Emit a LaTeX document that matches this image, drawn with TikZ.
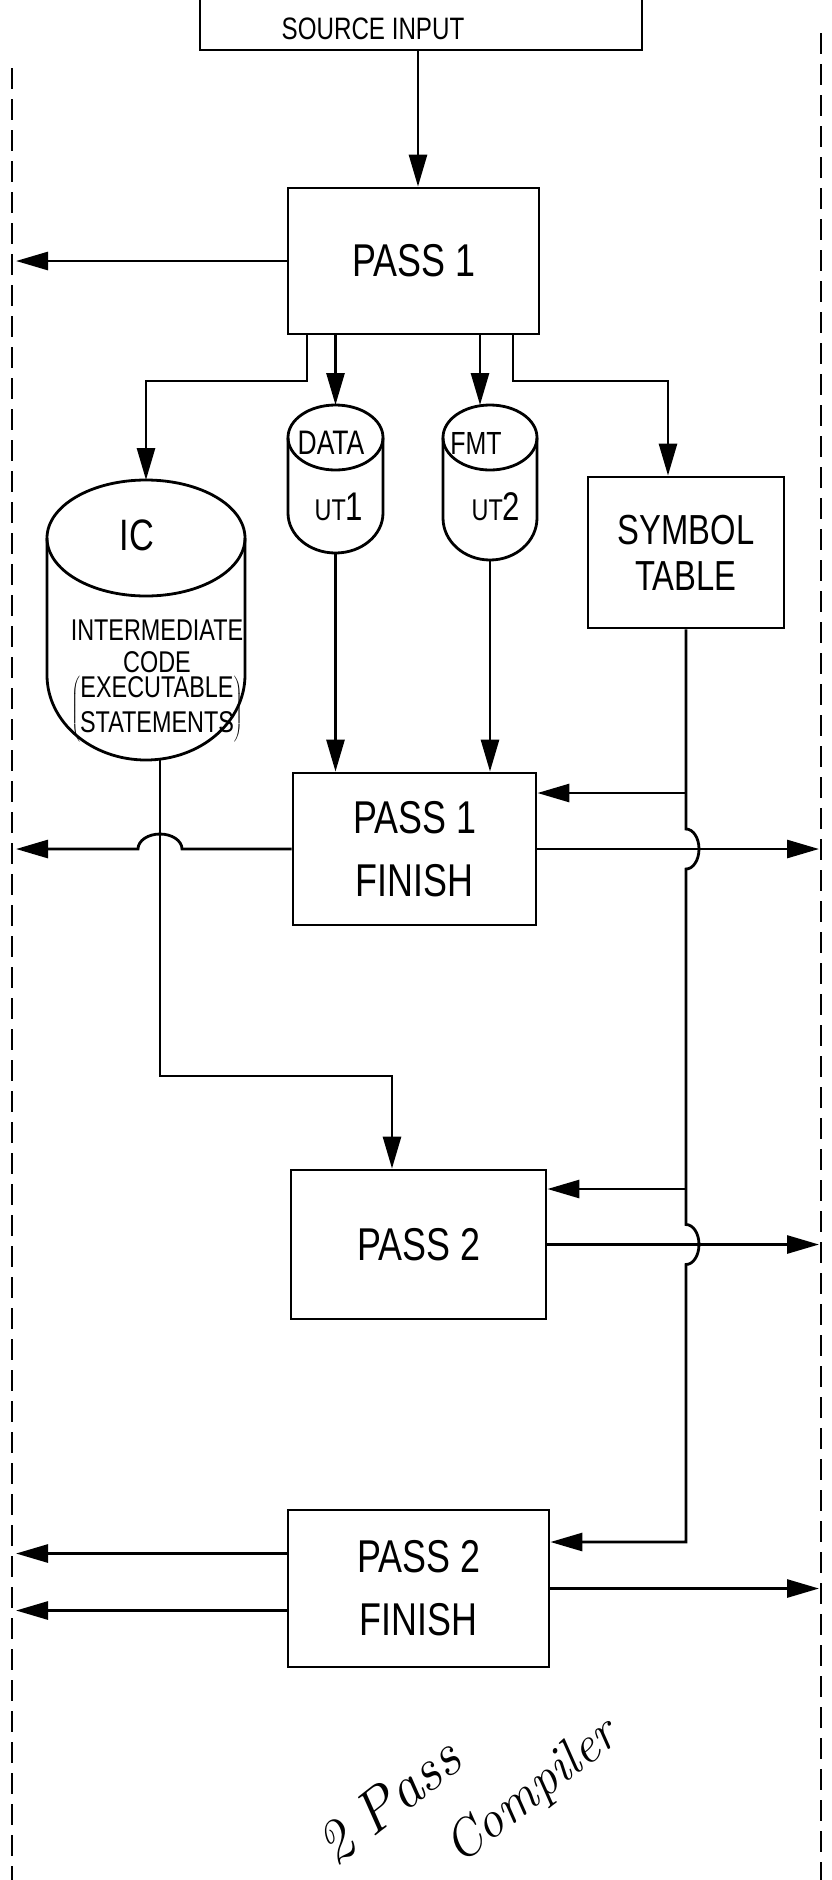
\documentclass[tikz,border=0pt]{standalone}
\usepackage{fontspec}
\newfontfamily\plotfont{Liberation Sans}[FakeStretch=0.78]
\usetikzlibrary{arrows.meta, calc}

\begin{document}
\begin{tikzpicture}[x=1pt, y=-1pt,
      >={Triangle[length=32pt, width=18pt]},
      box/.style={draw, line width=2.8pt, inner sep=0pt, align=center, font=\plotfont\fontsize{46}{63}\selectfont},
      drum/.style={inner sep=0pt, outer sep=0pt},
      ln/.style={line width=2.8pt},
      arr/.style={->, line width=2.8pt},
      rim/.style={line width=2.8pt, dash pattern=on 21pt off 10pt},
      lbl/.style={inner sep=0pt, align=center}]
    \useasboundingbox (0,0) rectangle (831,1880);
    % page edges
    \draw[rim] (12,68) -- (12,1880);
    \draw[rim] (821,33) -- (821,1880);
    \coordinate (lb) at (16,0);
    \coordinate (rb) at (819,0);
    % source input
    \draw[ln] (200,0) |- (642,50) -- (642,0);
    \node[lbl, font=\plotfont\fontsize{31}{31}\selectfont] (src) at (373,29) {SOURCE INPUT};
    \coordinate (srcout) at (418,50);
    % passes
    \node[box, minimum width=251pt, minimum height=146pt] (p1) at (413.5,261) {PASS 1};
    \node[box, minimum width=243pt, minimum height=152pt] (p1f) at (414.5,849) {PASS 1\\FINISH};
    \node[box, minimum width=255pt, minimum height=149pt] (p2) at (418.5,1244.5) {PASS 2};
    \node[box, minimum width=261pt, minimum height=157pt] (p2f) at (418.5,1588.5) {PASS 2\\FINISH};
    \node[box, minimum width=196pt, minimum height=151pt, font=\plotfont\fontsize{42}{46}\selectfont] (st) at (686,552.5) {SYMBOL\\TABLE};
    % tape drums
    \foreach \n/\cx/\dw/\ytop/\ylens/\hlens/\ybot/\rbot in {ic/146/198/480/538/58/760/85, ut1/335.5/95/405/437.5/32.5/553/40, ut2/490/94/405/437.5/32.5/560/42} {
      \node[drum, minimum width=\dw pt, minimum height={(\ybot-\ytop)*1pt}] (\n) at (\cx,{(\ytop+\ybot)/2}) {};
      \draw[ln] (\cx,\ylens) ellipse[x radius=\dw/2, y radius=\hlens];
      \draw[ln] ({\cx-\dw/2},\ylens) -- ({\cx-\dw/2},{\ybot-\rbot}) arc[start angle=180, end angle=0, x radius=\dw/2, y radius=\rbot] -- ({\cx+\dw/2},\ylens);
    }
    \node[lbl, font=\plotfont\fontsize{44}{44}\selectfont] (ictag) at (137,535) {IC};
    \node[lbl, font=\plotfont\fontsize{30}{32}\selectfont] (icdesc) at (157,681) {INTERMEDIATE\\CODE\\[2pt]$\left(\begin{tabular}{@{}c@{}}EXECUTABLE\\[3pt]STATEMENTS\end{tabular}\right)$};
    \node[lbl, font=\plotfont\fontsize{34}{34}\selectfont] (ut1tag) at (331,443) {DATA};
    \node[lbl, font=\plotfont\fontsize{32}{32}\selectfont] (ut2tag) at (476,443) {FMT};
    \node[lbl, font=\plotfont\fontsize{40}{40}\selectfont] (ut1name) at (339,507) {{\fontsize{30}{30}\selectfont UT}1};
    \node[lbl, font=\plotfont\fontsize{40}{40}\selectfont] (ut2name) at (496,507) {{\fontsize{30}{30}\selectfont UT}2};
    % pass 1 outputs
    \draw[arr] (srcout) -- (srcout |- p1.north);
    \draw[arr] (p1.west) -- (p1.west -| lb);
    \coordinate (icj) at (307,381);
    \coordinate (stj) at (513,381);
    \draw[arr] (p1.south -| icj) -- (icj) -| (ic.north);
    \draw[arr] (p1.south -| ut1.north) -- (ut1.north);
    \draw[arr] (p1.south -| 480,0) -- (480,0 |- ut2.north);
    \draw[arr] (p1.south -| stj) -- (stj) -| ([xshift=-18pt]st.north);
    \draw[arr] (ut1.south) -- (ut1.south |- p1f.north);
    \draw[arr] (ut2.south) -- (ut2.south |- p1f.north);
    % symbol table feed
    \coordinate (tap1) at (686,793);
    \coordinate (tap2) at (686,1189);
    \coordinate (tap3) at (686,1542);
    \draw[arr] (st.south) -- ($(st.south |- p1f.east)+(0,-20)$) arc[start angle=-90, end angle=90, x radius=13, y radius=20]
      -- ($(st.south |- p2.east)+(0,-20)$) arc[start angle=-90, end angle=90, x radius=13, y radius=20]
      -- (tap3) -- (tap3 -| p2f.east);
    \draw[arr] (tap1) -- (tap1 -| p1f.east);
    \draw[arr] (tap2) -- (tap2 -| p2.east);
    % outputs to the edges
    \draw[arr] (p1f.east) -- (p1f.east -| rb);
    \draw[arr] (p2.east) -- (p2.east -| rb);
    \draw[arr] (p2f.east) -- (p2f.east -| rb);
    \draw[arr] (p1f.west) -- (p1f.west -| 182,0) arc[start angle=0, end angle=-180, x radius=22, y radius=15] -- (p1f.west -| lb);
    \coordinate (o1) at ([yshift=35pt]p2f.west);
    \coordinate (o2) at ([yshift=-22pt]p2f.west);
    \draw[arr] (o1) -- (o1 -| lb);
    \draw[arr] (o2) -- (o2 -| lb);
    % intermediate code into pass 2
    \coordinate (icturn) at (160,1076);
    \draw[arr] ([xshift=14pt]ic.south) -- (icturn) -| ([xshift=-26.5pt]p2.north);
    % handwritten note
    \node[lbl, rotate=38, anchor=base west, font=\itshape\fontsize{60}{60}\selectfont] (hand1) at (335,1868) {2\hspace{0.3em}Pass};
    \node[lbl, rotate=38, anchor=base west, font=\itshape\fontsize{52}{52}\selectfont] (hand2) at (460,1866) {Compiler};
\end{tikzpicture}
\end{document}
